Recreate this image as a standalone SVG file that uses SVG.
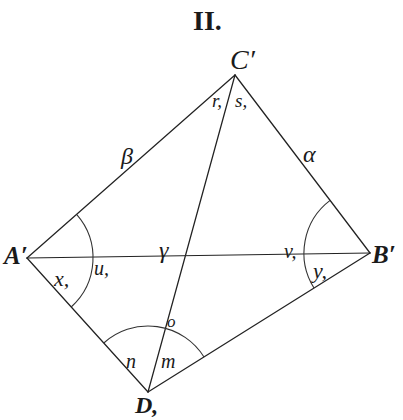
<svg xmlns="http://www.w3.org/2000/svg" width="403" height="420" viewBox="0 0 403 420">
<style>
.ln{stroke:#222;stroke-width:1.25;fill:none;stroke-linecap:round}
.arc{stroke:#333;stroke-width:1.1;fill:none}
text{font-family:"Liberation Serif","DejaVu Serif",serif;fill:#1a1a1a}
.it{font-style:italic}
.bi{font-style:italic;font-weight:bold}
.b{font-weight:bold}
</style>
<rect width="403" height="420" fill="#fff"/>
<text class="b" x="193" y="30" font-size="28">II.</text>
<g id="connectors">
<line class="ln" x1="27" y1="258" x2="235" y2="75"/>
<line class="ln" x1="235" y1="75" x2="370" y2="253"/>
<line class="ln" x1="27" y1="258" x2="370" y2="253"/>
<line class="ln" x1="27" y1="258" x2="148" y2="392"/>
<line class="ln" x1="148" y1="392" x2="370" y2="253"/>
<line class="ln" x1="235" y1="75" x2="148" y2="392"/>
<path class="arc" d="M76.6 214.4 A66 66 0 0 1 71.2 307"/>
<path class="arc" d="M330.1 200.4 A66 66 0 0 0 314 288"/>
<path class="arc" d="M103.8 343 A66 66 0 0 1 204 357"/>
<text class="it" x="121" y="164" font-size="24">β</text>
<text class="it" x="303" y="162" font-size="24">α</text>
<text class="it" x="159" y="258" font-size="24">γ</text>
</g>
<g id="C">
<text class="it" x="230" y="69" font-size="28">C′</text>
<text class="it" x="212" y="107" font-size="19">r,</text>
<text class="it" x="235" y="107" font-size="19">s,</text>
</g>
<g id="A">
<text class="bi" x="4" y="264" font-size="25">A′</text>
<text class="it" x="94" y="275" font-size="20">u,</text>
<text class="it" x="54" y="286" font-size="22">x,</text>
</g>
<g id="B">
<text class="bi" x="372" y="263" font-size="25">B′</text>
<text class="it" x="284" y="258" font-size="20">v,</text>
<text class="it" x="313" y="278" font-size="22">y,</text>
</g>
<g id="D">
<text class="bi" x="135" y="413" font-size="24">D,</text>
<text class="it" x="167" y="327" font-size="17">o</text>
<text class="it" x="126" y="368" font-size="20">n</text>
<text class="it" x="161" y="368" font-size="20">m</text>
</g>
</svg>
